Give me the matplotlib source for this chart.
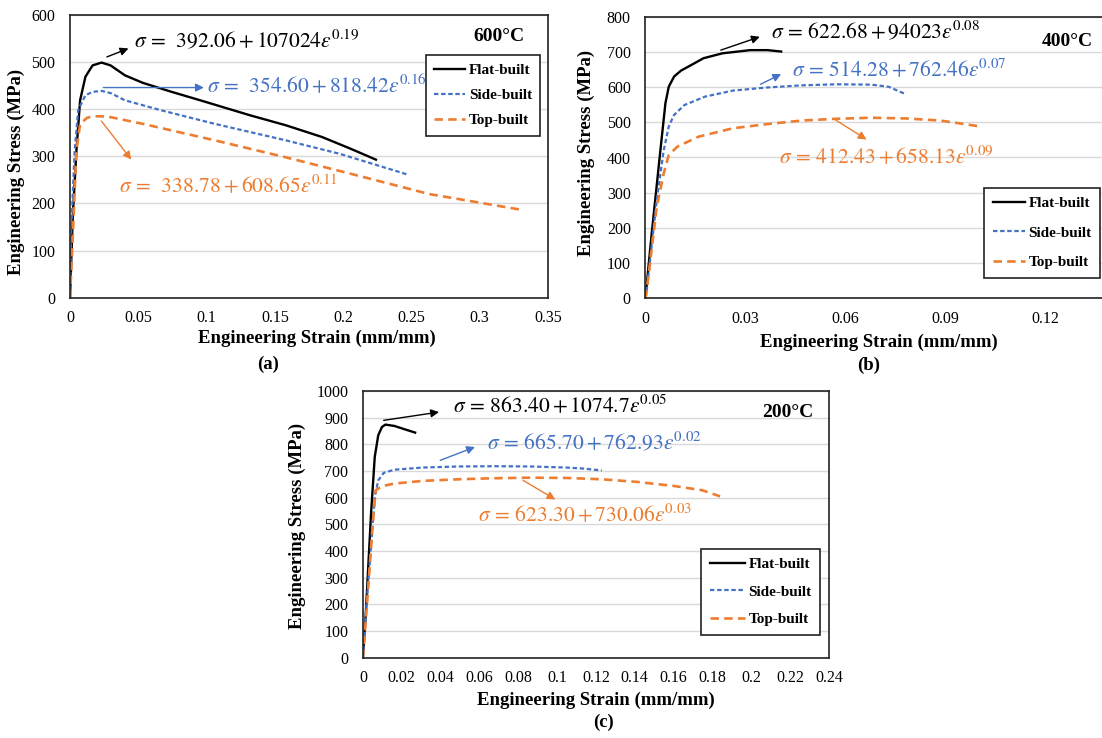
import matplotlib
matplotlib.use("Agg")
import matplotlib.pyplot as plt
import numpy as np

plt.rcParams['font.family'] = ['Liberation Serif', 'DejaVu Serif']
plt.rcParams['mathtext.fontset'] = 'stix'

BLACK = '#000000'
BLUE = '#4472C4'
ORANGE = '#ED7D31'

# ---- (a) 600°C ----
a_flat_x = [0, 0.0021, 0.0047, 0.0074, 0.0113, 0.0165, 0.0231, 0.0297, 0.0402, 0.0533, 0.0743, 0.0953, 0.132, 0.158, 0.1846, 0.2056, 0.224]
a_flat_y = [0, 177, 312, 419, 469, 493, 499, 493, 472, 456, 437, 419, 387, 366, 341, 316, 293]
a_side_x = [0, 0.0008, 0.0034, 0.006, 0.0113, 0.017, 0.0231, 0.030, 0.0402, 0.0664, 0.106, 0.158, 0.198, 0.2476]
a_side_y = [0, 135, 312, 398, 430, 437, 439, 434, 419, 398, 369, 334, 305, 261]
a_top_x = [0, 0.0021, 0.0047, 0.0074, 0.0126, 0.018, 0.023, 0.030, 0.0533, 0.106, 0.158, 0.211, 0.263, 0.3316]
a_top_y = [0, 135, 312, 369, 382, 385, 385, 383, 369, 334, 298, 259, 220, 186]

# ---- (b) 400°C ----
b_flat_x = [0, 0.0019, 0.0045, 0.006, 0.007, 0.0086, 0.0107, 0.0138, 0.0174, 0.0231, 0.0314, 0.0366, 0.0407]
b_flat_y = [0, 185, 421, 554, 601, 630, 647, 663, 682, 696, 705, 705, 701]
b_side_x = [0, 0.0003, 0.0034, 0.0055, 0.007, 0.0086, 0.0117, 0.0179, 0.0262, 0.0366, 0.0469, 0.0573, 0.0677, 0.0729, 0.0775]
b_side_y = [0, 14, 279, 421, 488, 521, 549, 573, 590, 599, 605, 608, 607, 601, 582]
b_top_x = [0, 0.0003, 0.0034, 0.0055, 0.007, 0.0096, 0.0159, 0.0262, 0.0366, 0.0469, 0.0573, 0.0677, 0.078, 0.0884, 0.0998]
b_top_y = [0, 14, 260, 355, 407, 431, 459, 483, 495, 505, 510, 513, 511, 505, 489]

# ---- (c) 200°C ----
c_flat_x = [0, 0.0015, 0.0042, 0.0061, 0.0079, 0.0098, 0.0116, 0.0162, 0.0217, 0.0269]
c_flat_y = [0, 166, 541, 753, 834, 865, 874, 869, 856, 844]
c_side_x = [0, 0.0015, 0.0042, 0.0061, 0.0079, 0.0107, 0.0162, 0.0309, 0.0494, 0.0678, 0.0862, 0.1046, 0.1138, 0.123]
c_side_y = [0, 166, 416, 603, 665, 693, 705, 713, 717, 718, 717, 713, 709, 702]
c_top_x = [0, 0.0024, 0.0048, 0.0066, 0.0098, 0.0162, 0.0309, 0.0494, 0.0678, 0.0862, 0.1046, 0.123, 0.1415, 0.16, 0.1747, 0.1839]
c_top_y = [0, 228, 478, 628, 643, 653, 663, 669, 673, 675, 674, 669, 659, 644, 628, 605]

labels = ["Flat-built", "Side-built", "Top-built"]

W, H = 1102, 738
fig = plt.figure(figsize=(W / 100, H / 100), dpi=100)


def rect(l, t, r, b):
    return [l / W, 1 - b / H, (r - l) / W, (b - t) / H]


def style_ax(ax, xlim, xticks, ylim, yticks):
    ax.set_xlim(*xlim)
    ax.set_ylim(*ylim)
    ax.set_xticks(xticks)
    ax.set_xticklabels([('%.2f' % v).rstrip('0').rstrip('.') or '0' for v in xticks])
    ax.set_yticks(yticks)
    ax.grid(axis='y', color='#d9d9d9', lw=1)
    ax.set_axisbelow(True)
    ax.tick_params(length=0, labelsize=11.5)
    ax.tick_params(axis='x', pad=9)
    ax.tick_params(axis='y', pad=10.5)
    for s in ax.spines.values():
        s.set_color('#222222')
        s.set_linewidth(1.2)


def draw_curves(ax, fx, fy, sx, sy, tx, ty):
    ax.plot(fx, fy, color=BLACK, lw=1.7, label=labels[0])
    ax.plot(sx, sy, color=BLUE, lw=1.6, dashes=(2.0, 1.2), label=labels[1])
    ax.plot(tx, ty, color=ORANGE, lw=1.9, dashes=(3.2, 2.0), label=labels[2])


def eq(ax, text, xy, color, tail, head):
    ax.annotate('', xy=head, xytext=tail,
                arrowprops=dict(arrowstyle='-|>', color=color, lw=1, mutation_scale=12, shrinkA=0, shrinkB=0))
    ax.text(xy[0], xy[1], text, color=color, fontsize=15.5, ha='left', va='center')


def legend(ax, x, y, spacing, hlen):
    lg = ax.legend(loc='upper left', bbox_to_anchor=(x, y), bbox_transform=ax.transData,
                   borderaxespad=0, fancybox=False, framealpha=1, edgecolor='#222222',
                   handlelength=hlen, handletextpad=0.25, labelspacing=spacing, borderpad=0.55,
                   prop={'family': 'Liberation Serif', 'weight': 'bold', 'size': 11})
    lg.get_frame().set_linewidth(1.2)


def temp(ax, x, y, s):
    ax.text(x, y, s, ha='right', va='center', fontsize=14, fontweight='bold')


# (a)
ax = fig.add_axes(rect(70, 15, 548, 297.7))
draw_curves(ax, a_flat_x, a_flat_y, a_side_x, a_side_y, a_top_x, a_top_y)
style_ax(ax, (0, 0.35), np.arange(0, 0.351, 0.05), (0, 600), range(0, 601, 100))
eq(ax, r'$\sigma\,=\,\ 392.06 + 107024\varepsilon^{0.19}$', (0.0467, 545), BLACK, (0.027, 511), (0.0428, 529))
eq(ax, r'$\sigma\,=\,\ 354.60 + 818.42\varepsilon^{0.16}$', (0.100, 450), BLUE, (0.0244, 446), (0.098, 446))
eq(ax, r'$\sigma\,=\,\ 338.78 + 608.65\varepsilon^{0.11}$', (0.0362, 236), ORANGE, (0.023, 375), (0.0449, 293))
temp(ax, 0.333, 555, '600°C')
legend(ax, 0.2607, 515, 0.75, 2.0)

# (b) - right part of the plot area runs off the picture
bx0, bunit = 645.4, 3336
ax = fig.add_axes(rect(bx0, 16.7, bx0 + 0.15 * bunit, 298.3))
draw_curves(ax, b_flat_x, b_flat_y, b_side_x, b_side_y, b_top_x, b_top_y)
style_ax(ax, (0, 0.15), np.arange(0, 0.121, 0.03), (0, 800), range(0, 801, 100))
ax.spines['right'].set_visible(False)
eq(ax, r'$\sigma\,=\,622.68 + 94023\varepsilon^{0.08}$', (0.0376, 757), BLACK, (0.0226, 705), (0.0343, 743))
eq(ax, r'$\sigma\,=\,514.28 + 762.46\varepsilon^{0.07}$', (0.044, 649), BLUE, (0.0345, 608), (0.0407, 637))
eq(ax, r'$\sigma\,=\,412.43 + 658.13\varepsilon^{0.09}$', (0.0399, 404), ORANGE, (0.0568, 508), (0.0663, 451))
temp(ax, 0.134, 729, '400°C')
legend(ax, 0.1016, 314, 1.05, 2.1)

# (c)
ax = fig.add_axes(rect(362.9, 391, 829, 657.7))
draw_curves(ax, c_flat_x, c_flat_y, c_side_x, c_side_y, c_top_x, c_top_y)
style_ax(ax, (0, 0.24), np.arange(0, 0.241, 0.02), (0, 1000), range(0, 1001, 100))
eq(ax, r'$\sigma\,=\,863.40 + 1074.7\varepsilon^{0.05}$', (0.0466, 943), BLACK, (0.0107, 890), (0.0392, 921))
eq(ax, r'$\sigma\,=\,665.70 + 762.93\varepsilon^{0.02}$', (0.0637, 805), BLUE, (0.0398, 740), (0.0577, 790))
eq(ax, r'$\sigma\,=\,623.30 + 730.06\varepsilon^{0.03}$', (0.0595, 536), ORANGE, (0.0825, 665), (0.0991, 593))
temp(ax, 0.232, 921, '200°C')
legend(ax, 0.1742, 407, 0.9, 2.3)

# axis titles and panel labels
lab = dict(fontsize=13.5, fontweight='bold', ha='center', va='center')
fig.text(317 / W, 1 - 338 / H, 'Engineering Strain (mm/mm)', **lab)
fig.text(268 / W, 1 - 364 / H, '(a)', **lab)
fig.text(16 / W, 1 - 172 / H, 'Engineering Stress (MPa)', rotation=90, **lab)
fig.text(879 / W, 1 - 342 / H, 'Engineering Strain (mm/mm)', **lab)
fig.text(869 / W, 1 - 365 / H, '(b)', **lab)
fig.text(586 / W, 1 - 153 / H, 'Engineering Stress (MPa)', rotation=90, **lab)
fig.text(596 / W, 1 - 700 / H, 'Engineering Strain (mm/mm)', **lab)
fig.text(603 / W, 1 - 722 / H, '(c)', **lab)
fig.text(297 / W, 1 - 526 / H, 'Engineering Stress (MPa)', rotation=90, **lab)

fig.savefig('out.png', dpi=100)
